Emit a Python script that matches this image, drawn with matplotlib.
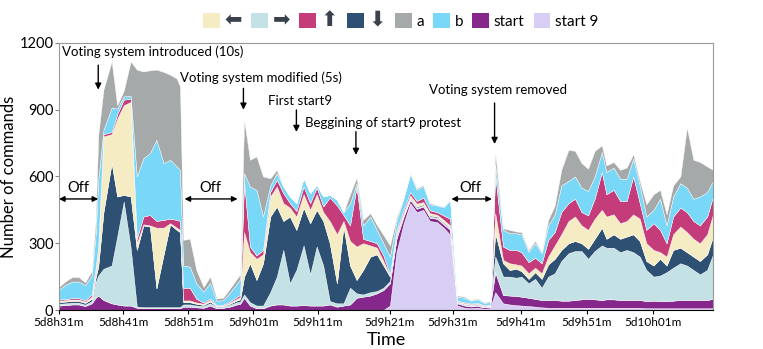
import numpy as np
import matplotlib
matplotlib.use('Agg')
import matplotlib.pyplot as plt
from matplotlib.patches import Patch

plt.rcParams['font.family'] = ['Lato', 'DejaVu Sans']

# sample position (minutes-ish index along the time axis)
t = [0, 1, 2, 3, 4, 5, 5.6, 6.0, 6.8, 8.05, 8.9, 9.9, 10.96, 11.9, 12.9, 13.9, 14.9, 16.0, 17.0, 18.0,
     18.5, 19.0, 20.0, 21.0, 22.1, 23.1, 24.1, 25.1, 26.1, 27.2, 27.7, 28.3, 29.2, 30.2, 31.2, 32.3, 33.3,
     34.3, 35.3, 36.3, 37.4, 38.4, 39.4, 40.4, 41.4, 42.5, 43.5, 44.5, 45.5, 46.5, 47.6, 48.6, 49.6, 50.6,
     51.6, 52.7, 53.7, 54.7, 55.7, 56.7, 57.8, 58.8, 59.8, 60.9, 62.0, 63.0, 64.0, 65.0, 65.9, 66.7, 67.9,
     68.9, 69.9, 70.7, 71.8, 72.8, 73.8, 74.8, 75.8, 76.8, 77.9, 78.9, 79.9, 80.9, 81.9, 83.0, 83.7, 84.8,
     85.8, 86.8, 87.8, 88.8, 89.8, 90.9, 91.9, 92.9, 93.9, 95.0, 96.0, 97.0, 98.0, 99.1, 100.0]

start9 = [0, 0, 0, 0, 0, 0, 0, 0, 0, 0, 0, 0, 0, 0, 0, 0, 0, 0, 0, 0,
          0, 0, 0, 0, 0, 0, 0, 0, 0, 0, 0, 0, 0, 0, 0, 0, 0,
          0, 0, 0, 0, 0, 0, 0, 0, 0, 0, 0, 0, 0, 0, 0, 0, 20,
          260, 390, 480, 440, 450, 400, 395, 370, 338, 20, 10, 8, 10, 6, 8, 80, 30,
          25, 22, 20, 18, 15, 12, 10, 10, 10, 10, 10, 10, 10, 10, 10, 10, 10,
          10, 10, 10, 10, 8, 8, 8, 8, 8, 8, 8, 8, 8, 8, 8]
start = [20, 22, 25, 25, 18, 30, 55, 65, 45, 30, 25, 20, 20, 10, 8, 8, 8, 8, 8, 8,
         8, 15, 15, 12, 10, 20, 8, 10, 15, 25, 28, 55, 20, 8, 8, 20, 25,
         25, 20, 20, 22, 20, 20, 20, 25, 15, 20, 25, 55, 60, 65, 75, 90, 100,
         60, 30, 15, 15, 15, 15, 15, 15, 22, 10, 10, 8, 8, 6, 6, 90, 37,
         40, 41, 40, 37, 35, 33, 35, 35, 32, 32, 35, 38, 40, 38, 35, 38, 38,
         35, 35, 35, 35, 32, 34, 32, 32, 34, 37, 37, 37, 37, 37, 42]
right = [8, 8, 8, 8, 6, 10, 70, 90, 140, 170, 305, 467, 260, 5, 5, 5, 5, 5, 5, 5,
         5, 10, 10, 8, 8, 10, 5, 5, 8, 10, 10, 15, 15, 12, 12, 60, 125,
         245, 100, 160, 268, 140, 265, 180, 15, 15, 10, 75, 20, 10, 15, 10, 10, 10,
         10, 5, 5, 5, 5, 5, 5, 5, 5, 3, 5, 4, 5, 3, 3, 70, 83,
         85, 82, 90, 65, 90, 55, 105, 120, 178, 213, 220, 217, 180, 217, 245, 232, 232,
         215, 225, 215, 195, 140, 108, 115, 130, 148, 165, 155, 135, 115, 135, 200]
down = [8, 8, 8, 8, 8, 10, 20, 40, 255, 460, 180, 30, 230, 255, 367, 362, 84, 237, 372, 347,
        337, 10, 10, 8, 5, 8, 3, 3, 5, 8, 10, 80, 175, 115, 190, 340, 315,
        130, 300, 180, 170, 230, 165, 200, 260, 90, 345, 100, 60, 110, 160, 165, 100, 20,
        10, 5, 5, 5, 5, 5, 5, 5, 5, 2, 3, 3, 3, 2, 2, 105, 60,
        30, 40, 25, 20, 30, 40, 55, 65, 50, 45, 45, 35, 45, 55, 80, 40, 60,
        60, 60, 80, 70, 40, 50, 75, 30, 80, 70, 60, 60, 60, 70, 80]
left = [6, 6, 6, 6, 6, 10, 30, 70, 340, 130, 350, 403, 425, 30, 5, 5, 273, 120, 5, 10,
        10, 8, 8, 6, 5, 8, 3, 3, 5, 8, 10, 200, 50, 95, 40, 90, 90,
        80, 40, 60, 60, 60, 70, 40, 100, 220, 25, 110, 150, 120, 50, 30, 20, 5,
        10, 8, 10, 13, 10, 10, 8, 10, 10, 3, 3, 3, 3, 2, 2, 90, 15,
        30, 20, 25, 25, 20, 25, 35, 60, 70, 100, 110, 80, 85, 90, 80, 100, 90,
        70, 70, 90, 100, 80, 70, 30, 40, 70, 95, 90, 80, 80, 90, 100]
up = [5, 5, 6, 6, 6, 10, 15, 20, 10, 10, 20, 25, 15, 20, 35, 47, 30, 35, 20, 35,
      40, 57, 57, 16, 5, 6, 3, 3, 5, 8, 10, 227, 25, 15, 20, 20, 30,
      45, 20, 25, 35, 30, 30, 25, 105, 130, 27, 70, 270, 20, 20, 20, 25, 5,
      10, 12, 15, 12, 20, 13, 12, 20, 30, 3, 4, 3, 3, 3, 3, 172, 60,
      60, 65, 60, 50, 45, 45, 75, 60, 100, 80, 80, 60, 65, 90, 170, 100, 110,
      100, 90, 170, 70, 60, 120, 100, 60, 80, 85, 90, 80, 80, 80, 80]
b = [45, 65, 75, 75, 68, 85, 150, 300, 20, 110, 25, 15, 12, 280, 262, 278, 365, 255, 265, 240,
     230, 100, 95, 70, 50, 70, 20, 20, 40, 60, 70, 38, 270, 295, 150, 30, 30,
     30, 30, 35, 37, 45, 12, 45, 12, 25, 13, 100, 15, 60, 110, 60, 55, 80,
     40, 55, 80, 50, 53, 27, 30, 37, 85, 19, 20, 13, 16, 10, 12, 45, 75,
     75, 75, 80, 47, 65, 45, 65, 80, 120, 100, 100, 110, 110, 100, 90, 100, 100,
     100, 100, 80, 80, 60, 60, 140, 80, 90, 110, 110, 100, 130, 110, 70]
a = [12, 15, 20, 20, 12, 20, 60, 200, 180, 207, 15, 25, 155, 480, 390, 372, 315, 410, 382, 395,
     375, 115, 125, 60, 20, 28, 10, 11, 17, 21, 22, 240, 120, 150, 180, 32, 15,
     0, 0, 0, 0, 0, 0, 0, 0, 0, 0, 40, 25, 25, 15, 22, 37, 50,
     15, 0, 5, 7, 4, 5, 2, 3, 0, 5, 5, 3, 4, 3, 4, 53, 7,
     15, 8, 10, 8, 10, 5, 25, 40, 70, 140, 115, 110, 100, 115, 30, 30, 25,
     40, 50, 20, 20, 55, 70, 40, 50, 50, 30, 270, 175, 155, 115, 50]

series_labels = ['\u2b05', '\u27a1', '\u2b06', '\u2b07', 'a', 'b', 'start', 'start 9']
tick_pos = [0, 9.8, 19.8, 29.7, 39.6, 50.6, 60.2, 70.6, 80.7, 90.8]
tick_labels = ['5d8h31m', '5d8h41m', '5d8h51m', '5d9h01m', '5d9h11m',
               '5d9h21m', '5d9h31m', '5d9h41m', '5d9h51m', '5d10h01m']

c_left = '#f6ecc3'
c_right = '#c4e1e5'
c_up = '#c43d7a'
c_down = '#2e5073'
c_a = '#a6a9a9'
c_b = '#79d7f7'
c_start = '#86288b'
c_start9 = '#d8cdf3'

fig = plt.figure(figsize=(7.63, 3.49), dpi=100)
ax = fig.add_axes([0.0773, 0.1117, 0.8572, 0.7653])

ax.stackplot(t, start9, start, right, down, left, up, b, a,
             colors=[c_start9, c_start, c_right, c_down, c_left, c_up, c_b, c_a],
             edgecolor='white', linewidth=0.3)

ax.set_xlim(0, 100)
ax.set_ylim(0, 1200)
ax.set_yticks([0, 300, 600, 900, 1200])
ax.set_xticks(tick_pos)
ax.set_xticklabels(tick_labels, fontsize=8.5)
ax.tick_params(axis='y', labelsize=10.5, length=3, color='#888888', pad=1)
ax.tick_params(axis='x', length=3, pad=2)
for s in ['left', 'top', 'right']:
    ax.spines[s].set_color('#999999')
ax.set_xlabel('Time', fontsize=13, labelpad=3)
ax.set_ylabel('Number of commands', fontsize=12, labelpad=2)

# annotations
txt = dict(fontsize=9.5, va='center', ha='left')
down_arrow = dict(arrowstyle='-|>', color='black', lw=1.0, mutation_scale=9, shrinkA=0, shrinkB=0)
ax.text(0.5, 1160, 'Voting system introduced (10s)', **txt)
ax.annotate('', xy=(6.0, 990), xytext=(6.0, 1100), arrowprops=down_arrow)
ax.text(18.5, 1043, 'Voting system modified (5s)', **txt)
ax.annotate('', xy=(28.2, 900), xytext=(28.2, 996), arrowprops=down_arrow)
ax.text(32.0, 941, 'First start9', **txt)
ax.annotate('', xy=(36.3, 800), xytext=(36.3, 899), arrowprops=down_arrow)
ax.text(37.6, 842, 'Beggining of start9 protest', **txt)
ax.annotate('', xy=(45.4, 697), xytext=(45.4, 801), arrowprops=down_arrow)
ax.text(56.6, 989, 'Voting system removed', **txt)
ax.annotate('', xy=(66.6, 746), xytext=(66.6, 930), arrowprops=down_arrow)

both = dict(arrowstyle='<|-|>', color='black', lw=1.0, mutation_scale=8, shrinkA=0, shrinkB=0)
for x0, x1, xm in [(0.0, 6.0, 2.9), (19.2, 27.3, 23.1), (60.0, 66.2, 62.9)]:
    ax.annotate('', xy=(x0, 499), xytext=(x1, 499), arrowprops=both)
    ax.text(xm, 548, 'Off', fontsize=10.5, ha='center', va='center')

handles = [Patch(facecolor=c) for c in [c_left, c_right, c_up, c_down, c_a, c_b, c_start, c_start9]]
leg = fig.legend(handles, series_labels, loc='center', bbox_to_anchor=(0.525, 0.943), ncol=8,
                 frameon=False, fontsize=11, handlelength=1.1, handleheight=1.1,
                 handletextpad=0.3, columnspacing=0.6)
for tx in leg.get_texts()[:4]:
    tx.set_fontsize(15)
    tx.set_color('#3b414c')
    tx.set_fontfamily('DejaVu Sans')

fig.savefig('out.png', dpi=100)
